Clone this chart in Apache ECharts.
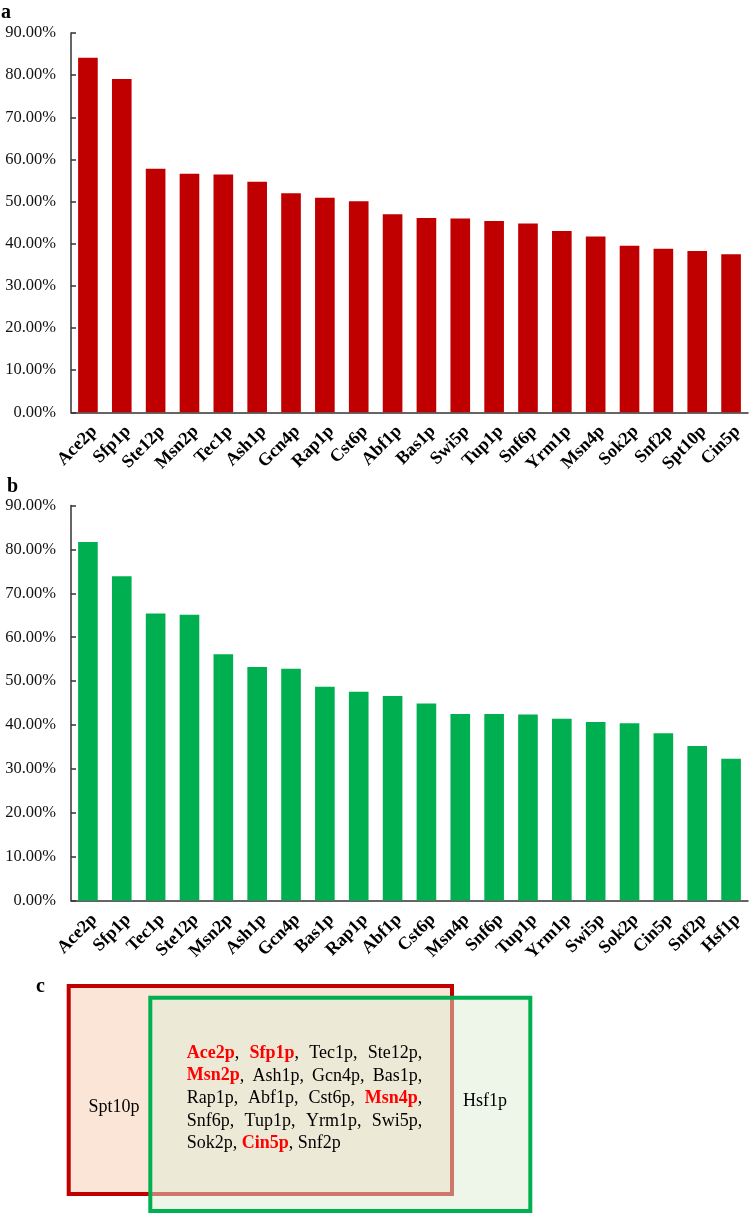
<!DOCTYPE html>
<html>
<head>
<meta charset="utf-8">
<script src="https://cdn.jsdelivr.net/npm/echarts@6/dist/echarts.min.js"></script>
<style>
html,body{margin:0;padding:0;background:#fff;}
#chart{width:749px;height:1214px;}
</style>
</head>
<body>
<div id="chart"></div>
<script>
// ---- Data ----
var categoriesA = ['Ace2p','Sfp1p','Ste12p','Msn2p','Tec1p','Ash1p','Gcn4p','Rap1p','Cst6p','Abf1p','Bas1p','Swi5p','Tup1p','Snf6p','Yrm1p','Msn4p','Sok2p','Snf2p','Spt10p','Cin5p'];
var valuesA = [84.1, 79.1, 57.8, 56.6, 56.4, 54.7, 52.0, 50.9, 50.1, 47.0, 46.1, 46.0, 45.4, 44.8, 43.0, 41.7, 39.5, 38.8, 38.3, 37.5];

var categoriesB = ['Ace2p','Sfp1p','Tec1p','Ste12p','Msn2p','Ash1p','Gcn4p','Bas1p','Rap1p','Abf1p','Cst6p','Msn4p','Snf6p','Tup1p','Yrm1p','Swi5p','Sok2p','Cin5p','Snf2p','Hsf1p'];
var valuesB = [81.7, 73.9, 65.4, 65.1, 56.1, 53.2, 52.8, 48.7, 47.6, 46.6, 44.9, 42.5, 42.5, 42.4, 41.4, 40.7, 40.4, 38.1, 35.2, 32.3];

var yMin = 0, yMax = 90, yInterval = 10;

// Venn diagram contents
var onlyA = ['Spt10p'];
var onlyB = ['Hsf1p'];
var shared = ['Ace2p','Sfp1p','Tec1p','Ste12p','Msn2p','Ash1p','Gcn4p','Bas1p','Rap1p','Abf1p','Cst6p','Msn4p','Snf6p','Tup1p','Yrm1p','Swi5p','Sok2p','Cin5p','Snf2p'];
var highlighted = ['Ace2p','Sfp1p','Msn2p','Msn4p','Cin5p'];
var wordsPerLine = [4, 4, 4, 4, 3];

// ---- Styles ----
var SERIF = '"Liberation Serif", "Times New Roman", serif';
var RED = '#C00000', GREEN = '#00B050';

function yAxisCfg(grid) {
  return {
    type: 'value', gridIndex: grid, min: yMin, max: yMax, interval: yInterval,
    axisLine: {show: true, lineStyle: {color: '#333', width: 1.5}},
    axisTick: {show: true, inside: true, length: 5, lineStyle: {color: '#333', width: 1.5}},
    splitLine: {show: false},
    axisLabel: {
      formatter: function (v) { return v.toFixed(2) + '%'; },
      fontFamily: SERIF, fontSize: 16.5, color: '#111', margin: 15
    }
  };
}
function xAxisCfg(grid, cats) {
  return {
    type: 'category', gridIndex: grid, data: cats,
    axisLine: {show: true, lineStyle: {color: '#333', width: 1.5}},
    axisTick: {show: false},
    axisLabel: {
      rotate: 45, interval: 0, fontFamily: SERIF, fontWeight: 'bold',
      fontSize: 18, color: '#000', margin: 10, align: 'right', verticalAlign: 'top'
    }
  };
}

// ---- Venn text layout (justified lines) ----
var ctx = document.createElement('canvas').getContext('2d');
var FS = 18;
function fontOf(bold) { return (bold ? 'bold ' : '') + FS + 'px ' + SERIF; }
function measure(t, bold) { ctx.font = fontOf(bold); return ctx.measureText(t).width; }

var graphics = [];
// panel letters
graphics.push({type: 'text', x: 1, y: 13, style: {text: 'a', font: 'bold 20px ' + SERIF, fill: '#000', verticalAlign: 'middle', textVerticalAlign: 'middle'}});
graphics.push({type: 'text', x: 7, y: 487, style: {text: 'b', font: 'bold 20px ' + SERIF, fill: '#000', verticalAlign: 'middle', textVerticalAlign: 'middle'}});
graphics.push({type: 'text', x: 36, y: 987, style: {text: 'c', font: 'bold 20px ' + SERIF, fill: '#000', verticalAlign: 'middle', textVerticalAlign: 'middle'}});

// rectangles
graphics.push({type: 'rect', shape: {x: 68.7, y: 986, width: 383.3, height: 208}, style: {fill: '#FBE5D6', stroke: RED, lineWidth: 4}, z: 1});
graphics.push({type: 'rect', shape: {x: 150.3, y: 997.7, width: 380, height: 213.3}, style: {fill: 'rgba(221,237,213,0.5)', stroke: GREEN, lineWidth: 4}, z: 2});

graphics.push({type: 'text', x: 114, y: 1107, z: 3, style: {text: onlyA.join(', '), font: fontOf(false), fill: '#000', align: 'center', textAlign: 'center', verticalAlign: 'middle', textVerticalAlign: 'middle'}});
graphics.push({type: 'text', x: 485, y: 1101, z: 3, style: {text: onlyB.join(', '), font: fontOf(false), fill: '#000', align: 'center', textAlign: 'center', verticalAlign: 'middle', textVerticalAlign: 'middle'}});

var left = 186.7, right = 422.3, lineY0 = 1053.3, lineH = 22.5;
var idx = 0;
for (var li = 0; li < wordsPerLine.length; li++) {
  var n = wordsPerLine[li];
  var words = shared.slice(idx, idx + n);
  var isLast = (idx + n >= shared.length);
  idx += n;
  var pieces = words.map(function (w, k) {
    var bold = highlighted.indexOf(w) >= 0;
    var comma = (isLast && k === words.length - 1) ? '' : ',';
    return {w: w, bold: bold, comma: comma, width: measure(w, bold) + measure(comma, false)};
  });
  var total = pieces.reduce(function (s, p) { return s + p.width; }, 0);
  var gap = isLast ? measure(' ', false) : (right - left - total) / (pieces.length - 1);
  var x = left, y = lineY0 + li * lineH;
  pieces.forEach(function (p) {
    graphics.push({type: 'text', x: x, y: y, z: 3, style: {text: p.w, font: fontOf(p.bold), fill: p.bold ? '#FF0000' : '#000', verticalAlign: 'middle', textVerticalAlign: 'middle'}});
    var ww = measure(p.w, p.bold);
    if (p.comma) {
      graphics.push({type: 'text', x: x + ww, y: y, z: 3, style: {text: p.comma, font: fontOf(false), fill: '#000', verticalAlign: 'middle', textVerticalAlign: 'middle'}});
    }
    x += p.width + gap;
  });
}

var chart = echarts.init(document.getElementById('chart'), null, {renderer: 'canvas'});
chart.setOption({
  animation: false,
  backgroundColor: '#fff',
  grid: [
    {left: 71, top: 33, width: 677, height: 379.3},
    {left: 71, top: 505.5, width: 677, height: 395.1}
  ],
  xAxis: [xAxisCfg(0, categoriesA), xAxisCfg(1, categoriesB)],
  yAxis: [yAxisCfg(0), yAxisCfg(1)],
  series: [
    {type: 'bar', xAxisIndex: 0, yAxisIndex: 0, data: valuesA, barWidth: '58%', itemStyle: {color: RED}},
    {type: 'bar', xAxisIndex: 1, yAxisIndex: 1, data: valuesB, barWidth: '58%', itemStyle: {color: GREEN}}
  ],
  graphic: graphics
});
</script>
</body>
</html>
